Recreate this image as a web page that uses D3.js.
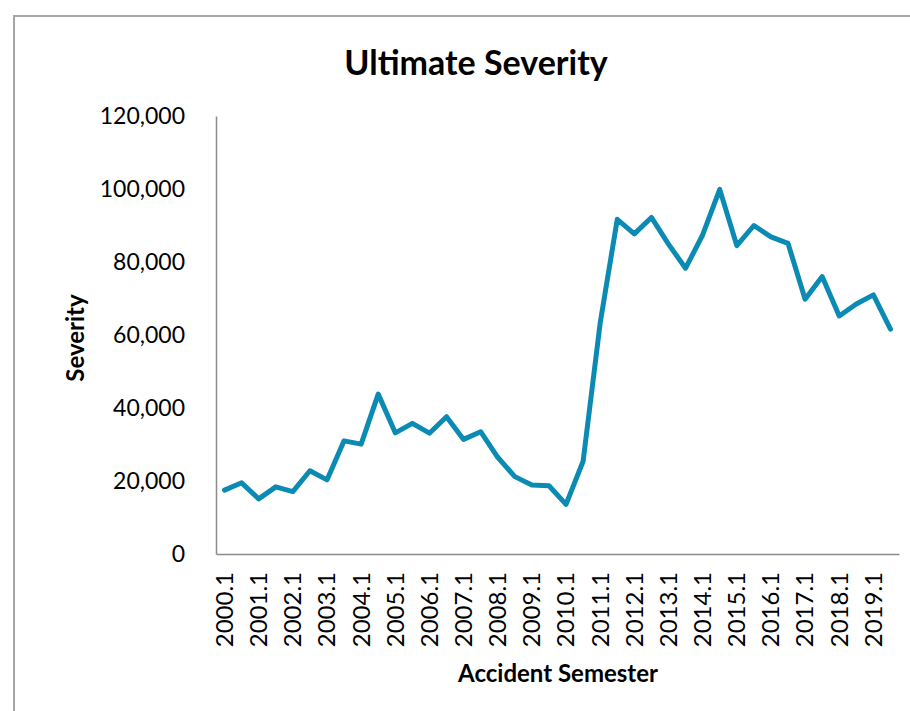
<!DOCTYPE html>
<html><head><meta charset="utf-8">
<script src="https://cdn.jsdelivr.net/npm/d3@7"></script>
<style>body{margin:0;background:#fff}svg{display:block}</style>
</head><body><svg id="c" width="910" height="711"></svg>
<script>
const years = d3.range(2000, 2020);
const semesters = years.flatMap(y => [y + ".1", y + ".2"]);
const severity = [17500, 19500, 15100, 18400, 17100, 22800, 20300, 31000, 30100, 43800,
  33200, 35800, 33100, 37600, 31400, 33500, 26500, 21200, 18900, 18700,
  13600, 25400, 63300, 91700, 87700, 92200, 84900, 78300, 87400, 99900,
  84500, 90000, 86900, 85100, 69800, 76000, 65200, 68500, 71000, 61600];
const yTicks = [0, 20000, 40000, 60000, 80000, 100000, 120000];
const tickLabels = semesters.filter(s => s.endsWith(".1"));

const FONT = "Lato, 'Open Sans', sans-serif";
const svg = d3.select("#c");
svg.append("rect").attr("x", 14).attr("y", 16).attr("width", 910).attr("height", 720)
  .attr("fill", "#fff").attr("stroke", "#a6a6a6").attr("stroke-width", 2);

const L = 216, R = 899, T = 116, B = 554;
const x = d3.scaleBand().domain(semesters).range([L, R]);
const y = d3.scaleLinear().domain([0, 120000]).range([B, T]);

svg.append("text").attr("x", 476).attr("y", 75).attr("text-anchor", "middle")
  .attr("font-family", FONT).attr("font-weight", "bold").attr("font-size", 34)
  .text("Ultimate Severity");

const yAxis = svg.append("g").attr("transform", `translate(${L},0)`)
  .call(d3.axisLeft(y).tickValues(yTicks).tickSize(0).tickPadding(31).tickFormat(d3.format(",")));
yAxis.select(".domain").attr("stroke", "#8c8c8c").attr("stroke-width", 1.5);
yAxis.selectAll("text").attr("font-family", FONT).attr("font-size", 23).attr("fill", "#000");

const xAxis = svg.append("g").attr("transform", `translate(0,${B})`)
  .call(d3.axisBottom(x).tickValues(tickLabels).tickSize(0).tickPadding(0));
xAxis.select(".domain").attr("stroke", "#8c8c8c").attr("stroke-width", 1.5);
xAxis.selectAll("text").attr("font-family", FONT).attr("font-size", 24).attr("fill", "#000")
  .attr("transform", "rotate(-90)").attr("text-anchor", "end")
  .attr("x", -18).attr("y", 0).attr("dy", "0.35em");

svg.append("text").attr("x", 558).attr("y", 682).attr("text-anchor", "middle")
  .attr("font-family", FONT).attr("font-weight", "bold").attr("font-size", 24)
  .text("Accident Semester");
svg.append("text").attr("transform", "translate(84,338) rotate(-90)").attr("text-anchor", "middle")
  .attr("font-family", FONT).attr("font-weight", "bold").attr("font-size", 24)
  .text("Severity");

const line = d3.line().x((d, i) => x(semesters[i]) + x.bandwidth() / 2).y(d => y(d));
svg.append("path").datum(severity).attr("d", line).attr("fill", "none")
  .attr("stroke", "#0b8ab3").attr("stroke-width", 5).attr("stroke-linejoin", "round").attr("stroke-linecap", "round");
</script></body></html>
